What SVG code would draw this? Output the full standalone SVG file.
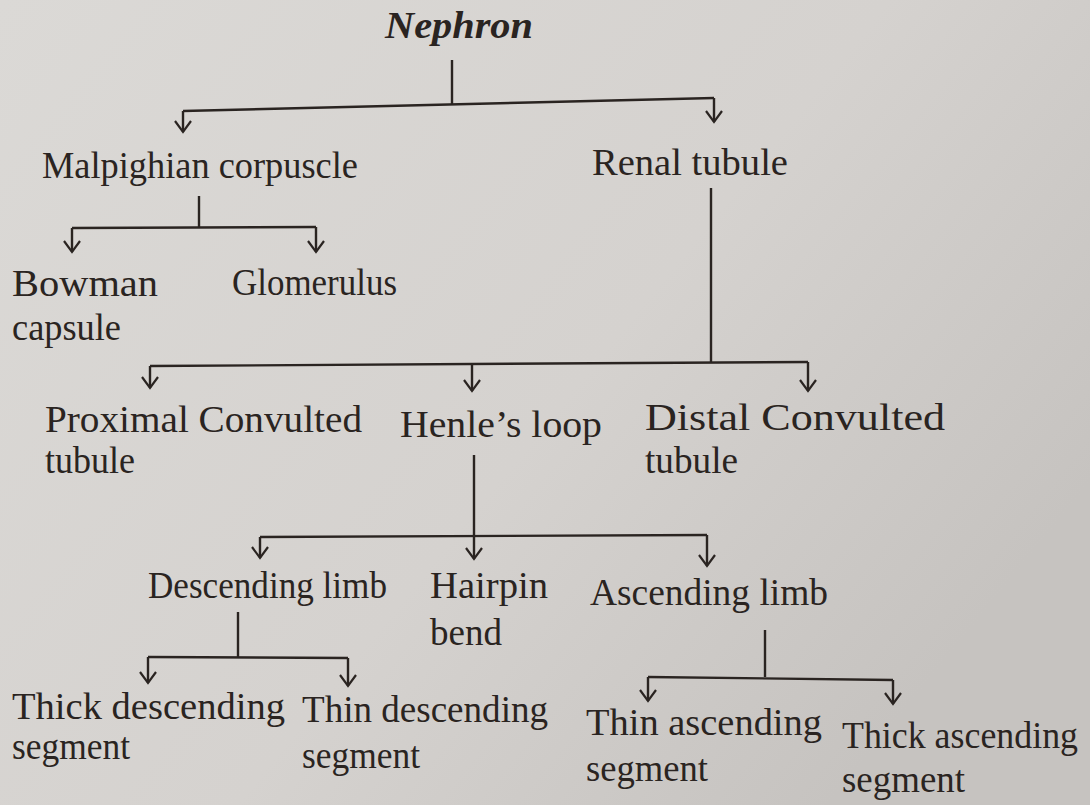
<svg xmlns="http://www.w3.org/2000/svg" width="1090" height="805" viewBox="0 0 1090 805">
<defs>
<linearGradient id="bg" x1="0" y1="0" x2="1" y2="0.6">
<stop offset="0" stop-color="#dbd9d6"/>
<stop offset="0.6" stop-color="#d5d2cf"/>
<stop offset="1" stop-color="#c6c3c0"/>
</linearGradient>
<marker id="arr" viewBox="-13 -10 15 20" refX="0" refY="0" markerWidth="15" markerHeight="20" markerUnits="userSpaceOnUse" orient="auto">
<path d="M-11,-8 L0,0 L-11,8" fill="none" stroke="#2a2421" stroke-width="2.2"/>
</marker>
<style>
.t{font-family:"Liberation Serif","Times New Roman",serif;font-size:37px;fill:#2a2421;}
.title{font-family:"Liberation Serif","Times New Roman",serif;font-size:38px;font-weight:bold;font-style:italic;fill:#2a2421;}
.c{fill:none;stroke:#2a2421;stroke-width:2.4;}
.a{fill:none;stroke:#2a2421;stroke-width:2.4;marker-end:url(#arr);}
</style>
</defs>
<rect width="1090" height="805" fill="url(#bg)"/>
<g id="connectors">
<path class="c" d="M452,60 L452,104"/>
<path class="c" d="M183,111 L714,98"/>
<path class="a" d="M183,111 L183,132"/>
<path class="a" d="M714,98 L714,122"/>
<path class="c" d="M199,196 L199,227"/>
<path class="c" d="M72,228 L316,227"/>
<path class="a" d="M72,228 L72,252"/>
<path class="a" d="M316,227 L316,252"/>
<path class="c" d="M711,188 L711,362"/>
<path class="c" d="M150,366 L808,362"/>
<path class="a" d="M150,366 L150,388"/>
<path class="a" d="M472,364 L472,391"/>
<path class="a" d="M808,362 L808,391"/>
<path class="c" d="M474,455 L474,535"/>
<path class="c" d="M260,537 L707,535"/>
<path class="a" d="M260,537 L260,558"/>
<path class="a" d="M474,535 L474,559"/>
<path class="a" d="M707,535 L707,566"/>
<path class="c" d="M238,612 L238,657"/>
<path class="c" d="M148,657 L348,658"/>
<path class="a" d="M148,657 L148,683"/>
<path class="a" d="M348,658 L348,686"/>
<path class="c" d="M765,630 L765,677"/>
<path class="c" d="M648,677 L893,680"/>
<path class="a" d="M648,677 L648,701"/>
<path class="a" d="M893,680 L893,704"/>
</g>
<g id="nephron"><text class="title" x="385" y="38" textLength="148" lengthAdjust="spacingAndGlyphs">Nephron</text></g>
<g id="malpighian"><text class="t" x="42" y="178" textLength="316" lengthAdjust="spacingAndGlyphs">Malpighian corpuscle</text></g>
<g id="renal"><text class="t" x="592" y="175" textLength="196" lengthAdjust="spacingAndGlyphs">Renal tubule</text></g>
<g id="bowman"><text class="t" x="12" y="296" textLength="146" lengthAdjust="spacingAndGlyphs">Bowman</text><text class="t" x="12" y="340" textLength="109" lengthAdjust="spacingAndGlyphs">capsule</text></g>
<g id="glomerulus"><text class="t" x="232" y="295" textLength="165" lengthAdjust="spacingAndGlyphs">Glomerulus</text></g>
<g id="pct"><text class="t" x="45" y="432" textLength="317" lengthAdjust="spacingAndGlyphs">Proximal Convulted</text><text class="t" x="45" y="473" textLength="90" lengthAdjust="spacingAndGlyphs">tubule</text></g>
<g id="henle"><text class="t" x="400" y="437" textLength="202" lengthAdjust="spacingAndGlyphs">Henle’s loop</text></g>
<g id="dct"><text class="t" x="645" y="430" textLength="300" lengthAdjust="spacingAndGlyphs">Distal  Convulted</text><text class="t" x="645" y="473" textLength="93" lengthAdjust="spacingAndGlyphs">tubule</text></g>
<g id="descending"><text class="t" x="148" y="598" textLength="239" lengthAdjust="spacingAndGlyphs">Descending limb</text></g>
<g id="hairpin"><text class="t" x="430" y="598" textLength="118" lengthAdjust="spacingAndGlyphs">Hairpin</text><text class="t" x="430" y="645" textLength="72" lengthAdjust="spacingAndGlyphs">bend</text></g>
<g id="ascending"><text class="t" x="590" y="605" textLength="238" lengthAdjust="spacingAndGlyphs">Ascending limb</text></g>
<g id="thickdesc"><text class="t" x="12" y="719" textLength="273" lengthAdjust="spacingAndGlyphs">Thick descending</text><text class="t" x="12" y="759" textLength="118" lengthAdjust="spacingAndGlyphs">segment</text></g>
<g id="thindesc"><text class="t" x="302" y="722" textLength="246" lengthAdjust="spacingAndGlyphs">Thin descending</text><text class="t" x="302" y="768" textLength="118" lengthAdjust="spacingAndGlyphs">segment</text></g>
<g id="thinasc"><text class="t" x="586" y="735" textLength="236" lengthAdjust="spacingAndGlyphs">Thin ascending</text><text class="t" x="586" y="781" textLength="122" lengthAdjust="spacingAndGlyphs">segment</text></g>
<g id="thickasc"><text class="t" x="842" y="748" textLength="236" lengthAdjust="spacingAndGlyphs">Thick ascending</text><text class="t" x="842" y="792" textLength="123" lengthAdjust="spacingAndGlyphs">segment</text></g>
</svg>
